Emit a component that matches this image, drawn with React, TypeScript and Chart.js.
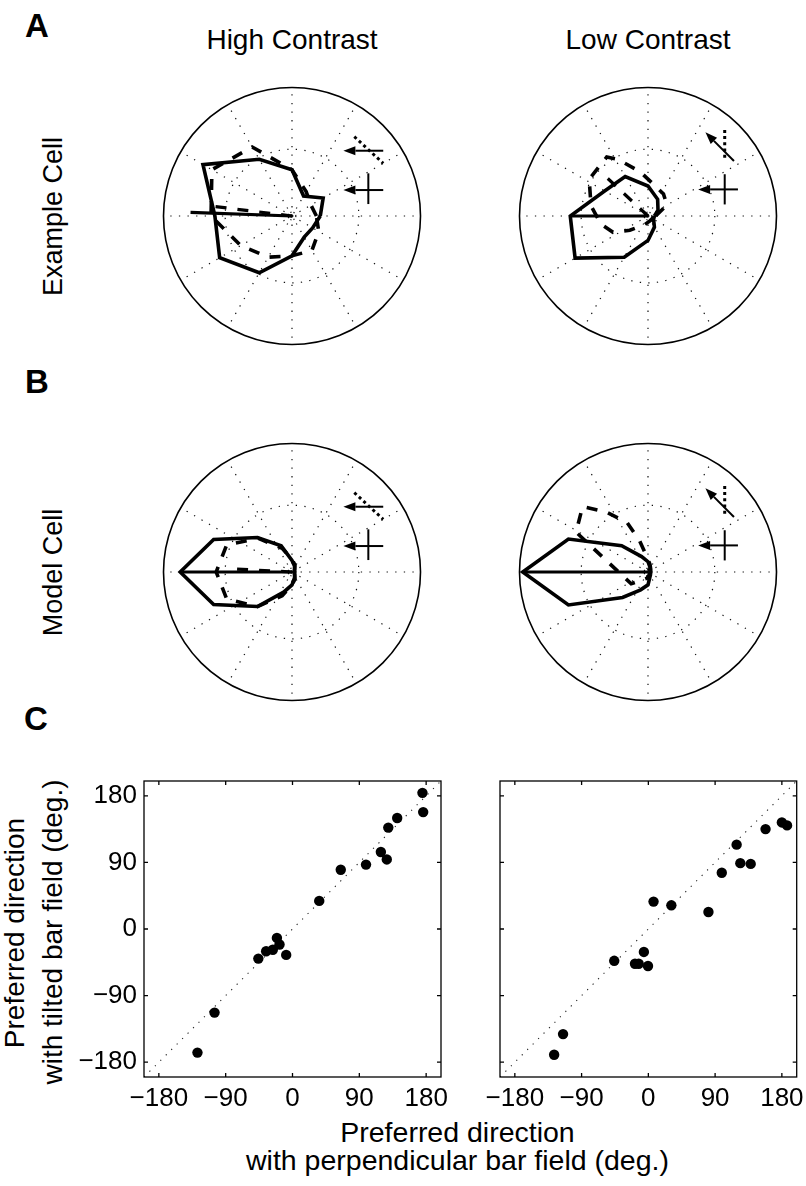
import React, { useEffect, useRef } from "react";
import { Chart, registerables } from "chart.js";

Chart.register(...registerables);

// ---------------- DATA ----------------
// Polar tuning curves: direction (deg) and normalised response (1 = outer circle)
const DIR30 = [0, 30, 60, 90, 120, 150, 180, 210, 240, 270, 300, 330];
const DIR16 = [0, 22.5, 45, 67.5, 90, 112.5, 135, 157.5, 180, 202.5, 225, 247.5, 270, 292.5, 315, 337.5];

// A: example cell, high contrast
const exHighPerpR = [0.22, 0.28, 0.18, 0.36, 0.51, 0.8, 0.6, 0.65, 0.51, 0.31, 0.19, 0.185];
const exHighTiltR = [0.19, 0.17, 0.22, 0.36, 0.62, 0.72, 0.63, 0.46, 0.37, 0.31, 0.31, 0.24];
const exHighPerpVec = [178, 0.79];
const exHighTiltVec = [173, 0.66];

// A: example cell, low contrast
const exLowPerpR = [0.05, 0.09, 0.15, 0.233, 0.355, 0.39, 0.605, 0.655, 0.37, 0.19, 0.1, 0.05];
const exLowTiltAng = [0, 30, 55, 100, 118, 125, 148, 170, 190, 205, 218, 250, 300, 340];
const exLowTiltR = [0.06, 0.17, 0.21, 0.35, 0.5, 0.56, 0.54, 0.45, 0.37, 0.3, 0.18, 0.07, 0.04, 0.04];
const exLowPerpVec = [180, 0.605];
const exLowTiltVec = [137, 0.5];

// B: model cell, high contrast
const modHighPerpR = [0.02, 0.02, 0.03, 0.05, 0.09, 0.22, 0.38, 0.66, 0.87, 0.66, 0.38, 0.17, 0.1, 0.05, 0.03, 0.02];
const modHighTiltR = [0.02, 0.02, 0.03, 0.06, 0.1, 0.2, 0.37, 0.55, 0.59, 0.55, 0.38, 0.2, 0.1, 0.06, 0.03, 0.02];
const modHighPerpVec = [180, 0.87];
const modHighTiltVec = [177, 0.5];

// B: model cell, low contrast
const modLowPerpR = [0.02, 0.02, 0.02, 0.04, 0.08, 0.13, 0.29, 0.67, 0.975, 0.67, 0.28, 0.15, 0.1, 0.04, 0.02, 0.02];
const modLowTiltAng = [0, 45, 75, 90, 105, 113, 125, 135, 151, 215, 260, 320];
const modLowTiltR = [0.02, 0.03, 0.06, 0.1, 0.25, 0.42, 0.57, 0.72, 0.64, 0.16, 0.05, 0.02];
const modLowPerpVec = [180, 0.975];

// Polar grid
const SPOKES = [0, 30, 60, 90, 120, 150, 180, 210, 240, 270, 300, 330];
const RINGS = [0.03, 0.52];

// C: preferred directions (deg)
const highPerp = [-128, -105, -46, -35.5, -26.5, -21, -17.5, -8.5, 36, 65, 99, 119, 127, 129, 141, 175, 176];
const highTilt = [-167, -113, -40, -30, -28, -12, -21, -35, 38, 80, 87, 104, 94, 137, 150, 184, 158];
const lowPerp = [-127, -115, -46, -18, -13, -6, -0.5, 7, 31, 81, 99, 119, 124, 138, 158, 180, 187];
const lowTilt = [-170, -142, -43, -47, -47, -31, -50, 37, 32, 23, 76, 114, 89, 88, 135, 144, 140];
const AX_MIN = -200;
const AX_MAX = 200;
const TICKS = [-180, -90, 0, 90, 180];
const UNITY = [AX_MIN, AX_MAX];

// ---------------- LAYOUT / STYLE ----------------
const FONT = "'Liberation Sans', Arial, Helvetica, sans-serif";
const POLAR_SIZE = 280;
const POLAR_RPX = 128.5;
const POLAR_EXT = POLAR_SIZE / 2 / POLAR_RPX;

// stimulus icons (in polar data units)
const ICON_HIGH = {
  bar: [[0.485, 0.617], [0.71, 0.41]],
  barMotion: [[0.71, 0.508], [0.4, 0.508]],
  crossBar: [[0.594, 0.332], [0.594, 0.093]],
  crossMotion: [[0.71, 0.202], [0.4, 0.202]],
};
const ICON_LOW = {
  bar: [[0.597, 0.67], [0.597, 0.435]],
  barMotion: [[0.669, 0.428], [0.447, 0.651]],
  crossBar: [[0.597, 0.325], [0.597, 0.09]],
  crossMotion: [[0.7, 0.207], [0.39, 0.207]],
};

const deg = (a: number) => (a * Math.PI) / 180;

function polarGridPlugin() {
  return {
    id: "polarGrid",
    beforeDatasetsDraw(chart: any) {
      const { ctx, scales } = chart;
      const x = scales.x;
      const y = scales.y;
      const cx = x.getPixelForValue(0);
      const cy = y.getPixelForValue(0);
      const rp = (r: number) => x.getPixelForValue(r) - cx;
      ctx.save();
      ctx.strokeStyle = "#111";
      ctx.lineWidth = 1.2;
      ctx.setLineDash([1.3, 7.3]);
      for (const a of SPOKES) {
        ctx.beginPath();
        ctx.moveTo(cx, cy);
        ctx.lineTo(cx + rp(1) * Math.cos(deg(a)), cy - rp(1) * Math.sin(deg(a)));
        ctx.stroke();
      }
      for (const r of RINGS) {
        ctx.setLineDash(r < 0.1 ? [1.2, 2] : [1.3, 7.3]);
        ctx.beginPath();
        ctx.arc(cx, cy, rp(r), 0, Math.PI * 2);
        ctx.stroke();
      }
      ctx.setLineDash([]);
      ctx.strokeStyle = "#000";
      ctx.lineWidth = 1.6;
      ctx.beginPath();
      ctx.arc(cx, cy, rp(1), 0, Math.PI * 2);
      ctx.stroke();
      ctx.restore();
    },
  };
}

function iconPlugin(icon: any) {
  return {
    id: "stimIcon",
    afterDatasetsDraw(chart: any) {
      const { ctx, scales } = chart;
      const px = (p: number[]) => [scales.x.getPixelForValue(p[0]), scales.y.getPixelForValue(p[1])];
      const line = (seg: number[][], w: number, dash: number[]) => {
        const a = px(seg[0]);
        const b = px(seg[1]);
        ctx.lineWidth = w;
        ctx.setLineDash(dash);
        ctx.beginPath();
        ctx.moveTo(a[0], a[1]);
        ctx.lineTo(b[0], b[1]);
        ctx.stroke();
      };
      const arrow = (seg: number[][]) => {
        const a = px(seg[0]);
        const b = px(seg[1]);
        const ang = Math.atan2(b[1] - a[1], b[0] - a[0]);
        const L = 12;
        const H = 4.5;
        const bx = b[0] - L * Math.cos(ang);
        const by = b[1] - L * Math.sin(ang);
        ctx.setLineDash([]);
        ctx.lineWidth = 2;
        ctx.beginPath();
        ctx.moveTo(a[0], a[1]);
        ctx.lineTo(bx, by);
        ctx.stroke();
        ctx.beginPath();
        ctx.moveTo(b[0], b[1]);
        ctx.lineTo(bx + H * Math.sin(ang), by - H * Math.cos(ang));
        ctx.lineTo(bx - H * Math.sin(ang), by + H * Math.cos(ang));
        ctx.closePath();
        ctx.fill();
      };
      ctx.save();
      ctx.strokeStyle = "#000";
      ctx.fillStyle = "#000";
      line(icon.bar, 3, [3, 3.2]);
      arrow(icon.barMotion);
      line(icon.crossBar, 2, []);
      arrow(icon.crossMotion);
      ctx.restore();
    },
  };
}

function PolarPanel(props: any) {
  const ref = useRef<HTMLCanvasElement>(null);
  useEffect(() => {
    const datasets: any[] = [];
    for (const c of props.curves) {
      const pts = c.ang.map((a: number, i: number) => ({
        x: c.r[i] * Math.cos(deg(a)),
        y: c.r[i] * Math.sin(deg(a)),
      }));
      pts.push(pts[0]);
      datasets.push({
        data: pts,
        showLine: true,
        pointRadius: 0,
        borderColor: "#000",
        borderWidth: 3.6,
        borderDash: c.dashed ? [11, 11] : [],
        borderJoinStyle: "miter",
        fill: false,
        tension: 0,
      });
    }
    for (const v of props.vectors) {
      datasets.push({
        data: [
          { x: 0, y: 0 },
          { x: v.vec[1] * Math.cos(deg(v.vec[0])), y: v.vec[1] * Math.sin(deg(v.vec[0])) },
        ],
        showLine: true,
        pointRadius: 0,
        borderColor: "#000",
        borderWidth: 3.2,
        borderDash: v.dashed ? [11, 11] : [],
        fill: false,
      });
    }
    const chart = new Chart(ref.current as HTMLCanvasElement, {
      type: "scatter",
      data: { datasets },
      options: {
        animation: false,
        responsive: false,
        maintainAspectRatio: false,
        events: [],
        layout: { padding: 0 },
        plugins: { legend: { display: false }, tooltip: { enabled: false } },
        scales: {
          x: { type: "linear", display: false, min: -POLAR_EXT, max: POLAR_EXT },
          y: { type: "linear", display: false, min: -POLAR_EXT, max: POLAR_EXT },
        },
      } as any,
      plugins: [polarGridPlugin(), iconPlugin(props.icon)],
    });
    return () => chart.destroy();
  }, []);
  return (
    <canvas
      ref={ref}
      width={POLAR_SIZE}
      height={POLAR_SIZE}
      style={{
        position: "absolute",
        left: props.cx - POLAR_SIZE / 2,
        top: props.cy - POLAR_SIZE / 2,
        width: POLAR_SIZE,
        height: POLAR_SIZE,
      }}
    />
  );
}

const fmtTick = (v: any) => (Number(v) < 0 ? "\u2212" + Math.abs(Number(v)) : String(v));

const boxPlugin = {
  id: "boxTicks",
  afterDraw(chart: any) {
    const { ctx, chartArea, scales } = chart;
    const { left, right, top, bottom } = chartArea;
    ctx.save();
    ctx.strokeStyle = "#000";
    ctx.lineWidth = 1.3;
    ctx.setLineDash([]);
    ctx.strokeRect(left, top, right - left, bottom - top);
    const T = 4;
    ctx.beginPath();
    for (const v of TICKS) {
      const px = scales.x.getPixelForValue(v);
      ctx.moveTo(px, bottom);
      ctx.lineTo(px, bottom - T);
      ctx.moveTo(px, top);
      ctx.lineTo(px, top + T);
      const py = scales.y.getPixelForValue(v);
      ctx.moveTo(left, py);
      ctx.lineTo(left + T, py);
      ctx.moveTo(right, py);
      ctx.lineTo(right - T, py);
    }
    ctx.stroke();
    ctx.restore();
  },
};

function ScatterPanel(props: any) {
  const ref = useRef<HTMLCanvasElement>(null);
  useEffect(() => {
    const pts = props.xs.map((x: number, i: number) => ({ x, y: props.ys[i] }));
    const tickFont = { family: FONT, size: 26 };
    const chart = new Chart(ref.current as HTMLCanvasElement, {
      type: "scatter",
      data: {
        datasets: [
          {
            data: pts,
            pointRadius: 5.2,
            pointBackgroundColor: "#000",
            pointBorderWidth: 0,
            showLine: false,
          },
          {
            data: UNITY.map((v) => ({ x: v, y: v })),
            showLine: true,
            pointRadius: 0,
            borderColor: "#222",
            borderWidth: 1.1,
            borderDash: [1.2, 6.5],
          },
        ],
      },
      options: {
        animation: false,
        responsive: false,
        maintainAspectRatio: false,
        events: [],
        layout: { padding: { top: 11, right: props.padRight, left: 0, bottom: 0 } },
        plugins: { legend: { display: false }, tooltip: { enabled: false } },
        scales: {
          x: {
            type: "linear",
            min: AX_MIN,
            max: AX_MAX,
            afterBuildTicks: (s: any) => {
              s.ticks = TICKS.map((v) => ({ value: v }));
            },
            afterFit: (s: any) => {
              s.height = 33;
              s.paddingLeft = 0;
              s.paddingRight = 0;
            },
            grid: { display: false, drawTicks: false },
            border: { display: false },
            ticks: { color: "#000", font: tickFont, padding: 6, maxRotation: 0, autoSkip: false, callback: fmtTick },
          },
          y: {
            type: "linear",
            min: AX_MIN,
            max: AX_MAX,
            afterBuildTicks: (s: any) => {
              s.ticks = TICKS.map((v) => ({ value: v }));
            },
            afterFit: (s: any) => {
              s.width = props.axisW;
              s.paddingTop = 0;
              s.paddingBottom = 0;
            },
            grid: { display: false, drawTicks: false },
            border: { display: false },
            ticks: {
              display: props.showYLabels,
              color: "#000",
              font: tickFont,
              padding: 7,
              autoSkip: false,
              callback: fmtTick,
            },
          },
        },
      } as any,
      plugins: [boxPlugin],
    });
    return () => chart.destroy();
  }, []);
  return (
    <canvas
      ref={ref}
      width={props.width}
      height={props.height}
      style={{ position: "absolute", left: props.left, top: props.top, width: props.width, height: props.height }}
    />
  );
}

function Txt(props: any) {
  const { x, y, size, bold, rotate, children } = props;
  const common: any = {
    position: "absolute",
    fontFamily: FONT,
    fontSize: size,
    fontWeight: bold ? "bold" : "normal",
    lineHeight: size + "px",
    height: size,
    whiteSpace: "nowrap",
    color: "#000",
  };
  if (rotate) {
    // x = baseline x position, y = centre of the text
    const cx = x - 0.3465 * size;
    return (
      <div
        style={{
          ...common,
          width: 600,
          left: cx - 300,
          top: y - size / 2,
          textAlign: "center",
          transform: "rotate(-90deg)",
          transformOrigin: "50% 50%",
        }}
      >
        {children}
      </div>
    );
  }
  // x = centre (or left if props.leftAlign), y = baseline
  const top = y - 0.8465 * size;
  if (props.leftAlign) {
    return <div style={{ ...common, left: x, top }}>{children}</div>;
  }
  return <div style={{ ...common, left: x - 300, width: 600, top, textAlign: "center" }}>{children}</div>;
}

export default function App() {
  return (
    <div
      style={{
        position: "absolute",
        left: 0,
        top: 0,
        width: 806,
        height: 1186,
        overflow: "hidden",
        background: "#fff",
      }}
    >
      <Txt x={25} y={37} size={33} bold leftAlign>A</Txt>
      <Txt x={25} y={393} size={33} bold leftAlign>B</Txt>
      <Txt x={24} y={730} size={33} bold leftAlign>C</Txt>

      <Txt x={292} y={50} size={28}>High Contrast</Txt>
      <Txt x={648} y={50} size={28}>Low Contrast</Txt>
      <Txt x={62} y={216} size={27} rotate>Example Cell</Txt>
      <Txt x={62} y={572} size={27} rotate>Model Cell</Txt>

      <PolarPanel
        cx={292.3}
        cy={216.3}
        icon={ICON_HIGH}
        curves={[
          { ang: DIR30, r: exHighPerpR, dashed: false },
          { ang: DIR30, r: exHighTiltR, dashed: true },
        ]}
        vectors={[
          { vec: exHighPerpVec, dashed: false },
          { vec: exHighTiltVec, dashed: true },
        ]}
      />
      <PolarPanel
        cx={648.3}
        cy={216.3}
        icon={ICON_LOW}
        curves={[
          { ang: DIR30, r: exLowPerpR, dashed: false },
          { ang: exLowTiltAng, r: exLowTiltR, dashed: true },
        ]}
        vectors={[
          { vec: exLowPerpVec, dashed: false },
          { vec: exLowTiltVec, dashed: true },
        ]}
      />
      <PolarPanel
        cx={292.3}
        cy={572.3}
        icon={ICON_HIGH}
        curves={[
          { ang: DIR16, r: modHighPerpR, dashed: false },
          { ang: DIR16, r: modHighTiltR, dashed: true },
        ]}
        vectors={[
          { vec: modHighPerpVec, dashed: false },
          { vec: modHighTiltVec, dashed: true },
        ]}
      />
      <PolarPanel
        cx={648.3}
        cy={572.3}
        icon={ICON_LOW}
        curves={[
          { ang: DIR16, r: modLowPerpR, dashed: false },
          { ang: modLowTiltAng, r: modLowTiltR, dashed: true },
        ]}
        vectors={[{ vec: modLowPerpVec, dashed: false }]}
      />

      <ScatterPanel left={70} top={770} width={380} height={340} axisW={74} padRight={9} xs={highPerp} ys={highTilt} showYLabels={true} />
      <ScatterPanel left={460} top={770} width={346} height={340} axisW={40} padRight={9.3} xs={lowPerp} ys={lowTilt} showYLabels={false} />

      <Txt x={25} y={933} size={28} rotate>Preferred direction</Txt>
      <Txt x={63} y={932} size={28} rotate>with tilted bar field (deg.)</Txt>
      <Txt x={457.5} y={1142} size={28.5}>Preferred direction</Txt>
      <Txt x={457.5} y={1170} size={28.5}>with perpendicular bar field (deg.)</Txt>
    </div>
  );
}
